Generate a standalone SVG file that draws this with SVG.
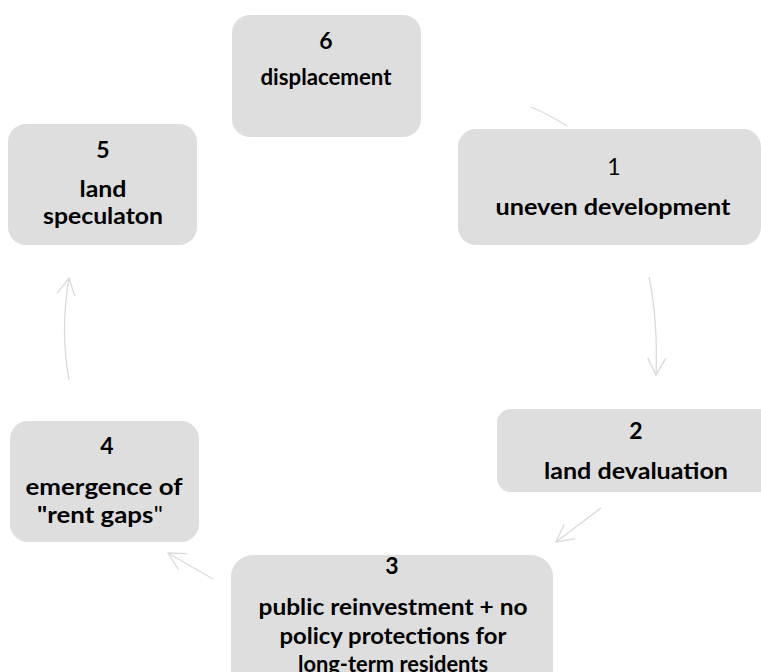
<svg xmlns="http://www.w3.org/2000/svg" width="761" height="672" viewBox="0 0 761 672">
<defs>
<style>
.box{fill:#dedede;}
.t{font-family:Lato,"Open Sans",sans-serif;font-weight:bold;font-size:23px;fill:#000;text-anchor:middle}
.n{font-weight:normal}
.c{fill:none;stroke:#dadada;stroke-width:1.3}
</style>
<marker id="ah" markerUnits="userSpaceOnUse" markerWidth="24" markerHeight="24" viewBox="-20 -12 24 24" refX="0" refY="0" orient="auto">
<path d="M-17,-9 L0,0 L-17,9" fill="none" stroke="#dadada" stroke-width="1.3"/>
</marker>
</defs>
<rect width="761" height="672" fill="#fff"/>
<g id="connectors">
<path class="c" d="M531,107 Q550,115 567,126"/>
<path class="c" d="M649,277 Q658,320 656,375" marker-end="url(#ah)"/>
<path class="c" d="M601,508 L556,542" marker-end="url(#ah)"/>
<path class="c" d="M213,579 L168,553" marker-end="url(#ah)"/>
<path class="c" d="M69,380 Q60,330 69,278" marker-end="url(#ah)"/>
</g>
<g id="node6">
<rect class="box" x="232" y="15" width="189" height="122" rx="18"/>
<text class="t" x="326" y="49">6</text>
<text class="t" x="326" y="85" textLength="131" lengthAdjust="spacingAndGlyphs">displacement</text>
</g>
<g id="node1">
<rect class="box" x="458" y="129" width="303" height="116" rx="18"/>
<text class="t n" x="614" y="175">1</text>
<text class="t" x="613" y="215" textLength="235" lengthAdjust="spacingAndGlyphs">uneven development</text>
</g>
<g id="node2">
<rect class="box" x="497" y="409" width="280" height="83" rx="14"/>
<text class="t" x="636" y="439">2</text>
<text class="t" x="636" y="479" textLength="184" lengthAdjust="spacingAndGlyphs">land devaluation</text>
</g>
<g id="node3">
<rect class="box" x="231" y="555" width="322" height="140" rx="22"/>
<text class="t" x="392" y="574">3</text>
<text class="t" x="393" y="615" textLength="269" lengthAdjust="spacingAndGlyphs">public reinvestment + no</text>
<text class="t" x="393" y="644" textLength="227" lengthAdjust="spacingAndGlyphs">policy protections for</text>
<text class="t" x="393" y="672" textLength="190" lengthAdjust="spacingAndGlyphs">long-term residents</text>
</g>
<g id="node4">
<rect class="box" x="10" y="421" width="189" height="121" rx="18"/>
<text class="t" x="107" y="454">4</text>
<text class="t" x="104" y="495" textLength="157" lengthAdjust="spacingAndGlyphs">emergence of</text>
<text class="t" x="100" y="523" textLength="126" lengthAdjust="spacingAndGlyphs">"rent gaps<tspan class="n">"</tspan></text>
</g>
<g id="node5">
<rect class="box" x="8" y="124" width="189" height="121" rx="18"/>
<text class="t" x="103" y="158">5</text>
<text class="t" x="103" y="197" textLength="47" lengthAdjust="spacingAndGlyphs">land</text>
<text class="t" x="103" y="224" textLength="120" lengthAdjust="spacingAndGlyphs">speculaton</text>
</g>
</svg>
